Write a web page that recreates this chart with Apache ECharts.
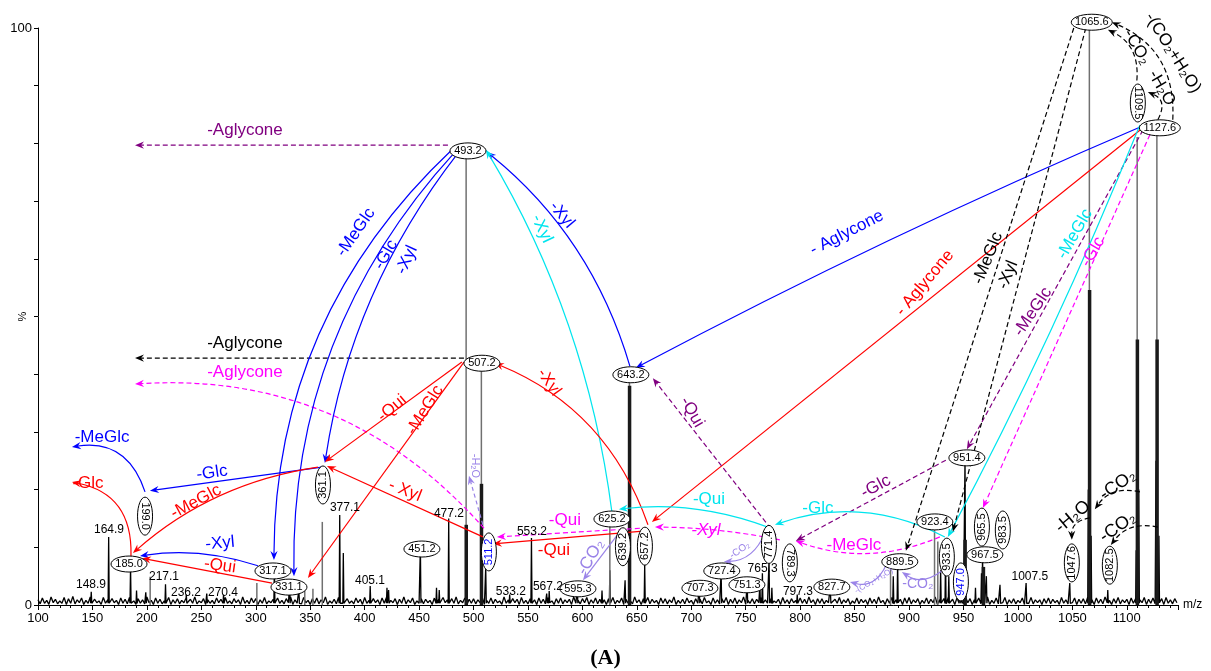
<!DOCTYPE html>
<html>
<head>
<meta charset="utf-8">
<script src="https://cdn.jsdelivr.net/npm/echarts@6/dist/echarts.min.js"></script>
<style>
  html, body { margin: 0; padding: 0; background: #fff; }
  #chart { width: 1211px; height: 671px; }
</style>
</head>
<body>
<div id="chart"></div>
<script>
const FONT = "'Liberation Sans', Arial, sans-serif";

// baseline noise, tenths of %, one value every 2 m/z from 100
const noiseStart = 100;
const noiseStep = 2;
const noise = [
  9,2,12,3,8,1,14,4,10,2,7,3,13,1,11,3,15,2,9,4,
  12,1,8,3,14,2,10,4,7,1,13,3,9,2,11,4,8,1,12,3,
  10,2,13,4,7,1,11,3,9,2,14,4,8,1,12,3,10,2,7,4,
  13,1,9,3,11,2,8,4,12,1,10,3,14,2,7,4,11,1,9,3,
  8,2,12,4,10,1,13,3,7,2,11,4,9,1,14,3,8,2,12,4,
  11,1,9,3,13,2,7,4,10,1,12,3,8,2,11,4,14,1,9,3,
  10,2,13,4,8,1,11,3,12,2,9,4,14,1,7,3,10,2,13,4,
  9,1,11,3,7,2,12,4,10,1,13,3,8,2,11,4,9,1,12,3,
  13,2,8,4,11,1,10,3,14,2,9,4,12,1,7,3,11,2,10,4,
  8,1,12,3,10,2,13,4,9,1,11,3,14,2,8,4,12,1,10,3,
  11,2,9,4,13,1,8,3,12,2,10,4,7,1,14,3,9,2,11,4,
  10,1,13,3,8,2,11,4,9,1,12,3,10,2,13,4,7,1,11,3,
  12,2,9,4,10,1,14,3,8,2,11,4,13,1,9,3,12,2,10,4,
  9,1,11,3,13,2,8,4,12,1,10,3,7,2,14,4,9,1,11,3,
  13,2,10,4,8,1,12,3,11,2,9,4,14,1,8,3,10,2,12,4,
  8,1,11,3,10,2,13,4,7,1,12,3,9,2,11,4,13,1,10,3,
  12,2,9,4,14,1,8,3,11,2,10,4,13,1,9,3,12,2,7,4,
  10,1,13,3,9,2,11,4,8,1,12,3,10,2,14,4,9,1,11,3,
  11,2,8,4,12,1,10,3,13,2,9,4,11,1,7,3,12,2,10,4,
  9,1,12,3,10,2,14,4,8,1,11,3,13,2,9,4,10,1,12,3,
  13,2,9,4,11,1,8,3,12,2,10,4,14,1,9,3,11,2,13,4,
  10,1,12,3,8,2,13,4,11,1,9,3,12,2,10,4,14,1,8,3,
  12,2,10,4,13,1,9,3,11,2,8,4,12,1,10,3,13,2,9,4,
  9,1,11,3,12,2,10,4,8,1,13,3,9,2,11,4,12,1,10,3,
  11,2,13,4,9,1,12,3,10,2,14,4,8,1,11,3,13,2,9,4,
  10,1,12,3,11,2,9,4,13,1,10,3,12,2,8,4,11,1,13,3,
  9,2,11,4
];

// thin black peaks of the trace
const peakMz = [148.9, 164.9, 185.0, 190.5, 199.0, 217.1, 236.2, 255.0, 270.4, 317.1, 331.1, 339.5,
  377.1, 380.4, 405.1, 420.5, 422.0, 451.2, 466.0, 468.5, 477.2, 511.2, 533.2, 553.2, 567.2, 569.5,
  595.3, 618.0, 625.2, 639.2, 657.2, 707.3, 727.4, 751.3, 763.0, 765.3, 771.4, 774.0, 797.3, 827.7,
  885.5, 889.5, 929.0, 933.5, 936.5, 947.0, 951.4, 961.0, 966.5, 967.5, 969.0, 971.0, 983.5, 1007.5,
  1047.6, 1064.6, 1067.2, 1082.5, 1108.6, 1111.0, 1126.8, 1129.5];
const peakInt = [2.3, 11.8, 6.6, 2.5, 2.2, 3.6, 1.8, 2.0, 1.8, 6.4, 3.5, 2.5,
  15.6, 9.0, 3.3, 3.0, 2.6, 10.2, 3.0, 2.6, 15.0, 6.6, 1.8, 11.6, 2.0, 2.4,
  2.9, 2.5, 6.0, 4.3, 7.0, 3.1, 5.7, 3.8, 3.5, 5.5, 7.8, 3.0, 1.8, 3.3,
  5.0, 7.6, 6.0, 8.3, 5.0, 4.0, 25.6, 3.0, 5.5, 8.7, 6.6, 5.0, 3.5, 3.8,
  3.8, 20.0, 12.0, 2.6, 9.5, 20.0, 25.0, 12.0];

// grey leader sticks
const grayMz = [203.0, 301.0, 345.0, 352.5, 361.1, 493.2, 507.2, 625.2, 643.2, 883.0, 923.4, 926.4, 1065.6, 1109.5, 1127.6];
const grayInt = [4.9, 3.8, 3.1, 2.8, 14.4, 78.7, 41.9, 14.9, 39.9, 6.6, 14.4, 11.0, 101.0, 81.1, 81.8];

// thick black clusters
const thickMz = [493.3, 507.3, 643.3, 951.5, 968.3, 1065.8, 1109.7, 1127.8];
const thickInt = [13.9, 21.0, 38.0, 11.3, 6.6, 54.6, 46.0, 46.0];

// boxed ion labels: m/z, %, text, rotation (deg)
const ellMz = [183.6, 315.8, 330.5, 452.6, 494.9, 507.7, 595.9, 627.1, 644.5, 707.9, 728.0, 751.1,
  829.1, 891.5, 923.7, 953.1, 969.6, 1067.8, 1130.3,
  198.3, 361.7, 514.1, 637.2, 657.4, 771.3, 790.5, 934.7, 947.6, 966.9, 986.1, 1049.5, 1084.4, 1110.1];
const ellPct = [7.1, 5.9, 3.1, 9.7, 78.7, 41.9, 2.8, 14.9, 39.9, 2.9, 5.9, 3.5,
  3.1, 7.5, 14.4, 25.5, 8.7, 101.0, 82.7,
  15.4, 20.8, 9.2, 10.1, 10.2, 10.5, 7.3, 8.3, 4.0, 13.5, 13.0, 7.3, 6.9, 87.0];
const ellText = ['185.0', '317.1', '331.1', '451.2', '493.2', '507.2', '595.3', '625.2', '643.2', '707.3', '727.4', '751.3',
  '827.7', '889.5', '923.4', '951.4', '967.5', '1065.6', '1127.6',
  '199.0', '361.1', '511.2', '639.2', '657.2', '771.4', '789.3', '933.5', '947.0', '965.5', '983.5', '1047.6', '1082.5', '1109.5'];
const ellRot = [0, 0, 0, 0, 0, 0, 0, 0, 0, 0, 0, 0, 0, 0, 0, 0, 0, 0, 0,
  -90, 90, 90, 90, 90, 90, -90, 90, 90, 90, 90, 90, 90, -90];
const ellBlue = ['511.2', '947.0'];

// plain peak labels
const tagMz = [148.7, 165.2, 215.7, 235.9, 269.9, 381.9, 404.9, 477.4, 534.3, 553.6, 568.3, 765.5, 797.9, 1010.9];
const tagPct = [3.5, 13.0, 4.9, 2.1, 2.1, 16.8, 4.3, 15.9, 2.3, 12.7, 3.1, 6.3, 2.3, 4.9];
const tagText = ['148.9', '164.9', '217.1', '236.2', '270.4', '377.1', '405.1', '477.2', '533.2', '553.2', '567.2', '765.3', '797.3', '1007.5'];

// losses: from m/z, %, to m/z, %, bend(px), style
const arrows = [
  [476.5, 79.7, 189.1, 79.7, 0, 'purple'],
  [491.2, 42.8, 189.1, 42.8, 0, 'black'],
  [509.6, 13.3, 189.1, 38.3, 46, 'magenta'],
  [480.2, 78.9, 316.7, 7.8, 48, 'blue'],
  [482.9, 78.5, 335.1, 5.0, 45, 'blue'],
  [485.7, 78.3, 363.5, 24.6, 22, 'blue'],
  [643.6, 41.4, 512.3, 78.5, 20, 'blue'],
  [627.1, 16.1, 511.4, 78.9, 20, 'cyan'],
  [1116.6, 83.2, 649.1, 41.1, 6, 'blue'],
  [360.8, 23.9, 202.8, 19.8, 0, 'blue'],
  [198.3, 19.6, 131.2, 27.4, 18, 'blue'],
  [185.4, 8.5, 131.2, 21.3, 20, 'red'],
  [302.0, 6.8, 193.7, 8.5, 7, 'blue'],
  [357.1, 23.9, 187.2, 9.0, 15, 'red'],
  [314.9, 3.8, 195.5, 8.1, 0, 'red'],
  [489.3, 42.1, 363.5, 24.8, 0, 'red'],
  [491.2, 42.1, 347.9, 4.7, 0, 'red'],
  [508.6, 11.8, 365.4, 24.1, 0, 'red'],
  [660.2, 13.9, 519.6, 41.9, 25, 'red'],
  [1114.8, 82.7, 663.8, 14.4, 0, 'red'],
  [655.6, 12.8, 517.8, 10.6, 0, 'red'],
  [652.8, 13.3, 521.5, 11.8, 0, 'magenta'],
  [781.3, 11.3, 666.6, 13.5, 3, 'magenta'],
  [928.3, 11.8, 796.0, 11.1, -14, 'magenta'],
  [1121.2, 81.5, 967.8, 16.8, 0, 'magenta'],
  [777.7, 12.1, 664.7, 39.3, 0, 'purple'],
  [933.8, 25.1, 796.0, 11.1, 0, 'purple'],
  [1114.8, 82.3, 953.1, 27.0, 0, 'purple'],
  [1112.0, 83.2, 935.6, 11.8, -6, 'cyan'],
  [932.9, 11.8, 776.8, 13.9, 18, 'cyan'],
  [770.3, 13.5, 633.5, 16.6, 9, 'cyan'],
  [1051.3, 100.0, 897.1, 9.4, 0, 'black'],
  [1062.3, 100.0, 940.2, 12.7, 0, 'black'],
  [1109.2, 90.9, 1082.6, 99.7, 10, 'black'],
  [1142.2, 84.1, 1086.2, 101.0, 20, 'black'],
  [1128.5, 84.1, 1119.3, 88.9, 8, 'black'],
  [1066.0, 15.1, 1049.5, 11.3, 6, 'black'],
  [1112.0, 19.6, 1070.6, 16.6, 8, 'black'],
  [1128.5, 13.5, 1085.3, 10.4, 8, 'black'],
  [508.6, 13.9, 495.8, 22.4, 0, 'lavD'],
  [634.4, 12.7, 600.5, 4.3, 0, 'lav'],
  [767.6, 12.5, 729.9, 7.5, -8, 'lav'],
  [930.1, 5.9, 893.4, 5.7, -7, 'lav'],
  [878.7, 6.8, 845.7, 4.0, -8, 'lav']
];

// loss names: m/z, %, text, rotation (deg), style, size, italic
const notes = [
  [290.1, 82.3, '-Aglycone', 0, 'purple', 17],
  [290.1, 45.4, '-Aglycone', 0, 'black', 17],
  [290.1, 40.4, '-Aglycone', 0, 'magenta', 17],
  [392.0, 64.6, '-MeGlc', 55, 'blue', 17],
  [419.6, 60.7, '-Glc', 60, 'blue', 17],
  [438.8, 59.8, '-Xyl', 65, 'blue', 17],
  [581.2, 67.6, '-Xyl', -50, 'blue', 17],
  [562.8, 65.2, '-Xyl', -65, 'cyan', 17],
  [842.9, 64.5, '- Aglycone', 27, 'blue', 17],
  [914.5, 55.8, '- Aglycone', 50, 'red', 17],
  [158.8, 29.1, '-MeGlc', 0, 'blue', 17],
  [145.9, 21.1, '-Glc', 0, 'red', 17],
  [259.8, 22.9, '-Glc', 8, 'blue', 17],
  [245.1, 17.9, '-MeGlc', 28, 'red', 17],
  [267.1, 10.7, '-Xyl', 5, 'blue', 17],
  [267.1, 6.8, '-Qui', -8, 'red', 17],
  [425.1, 34.1, '-Qui', 40, 'red', 17],
  [455.4, 33.8, '-MeGlc', 58, 'red', 17],
  [437.0, 19.8, '- Xyl', -22, 'red', 17],
  [569.2, 38.6, '-Xyl', -55, 'red', 17],
  [700.6, 33.4, '-Qui', -60, 'purple', 17],
  [583.9, 14.7, '-Qui', 0, 'magenta', 17],
  [573.8, 9.5, '-Qui', 0, 'red', 17],
  [607.8, 8.3, '-CO₂', 60, 'lav', 17],
  [501.3, 24.1, '-H₂O', -90, 'lav', 11],
  [716.2, 18.4, '-Qui', 0, 'cyan', 17],
  [713.4, 13.0, '-Xyl', 0, 'magenta', 17, true],
  [816.3, 16.8, '-Glc', 0, 'cyan', 17],
  [869.5, 20.5, '-Glc', 28, 'purple', 17],
  [849.3, 10.4, '-MeGlc', 0, 'magenta', 17],
  [744.6, 9.5, '-CO₂', 35, 'lav', 10],
  [908.1, 3.6, '-CO₂', 0, 'lav', 14],
  [867.7, 4.2, '-(CO₂+H₂O)', 30, 'lav', 8],
  [972.4, 60.1, '-MeGlc', 68, 'black', 17],
  [990.7, 57.2, '-Xyl', 68, 'black', 17],
  [1052.2, 64.3, '-MeGlc', 60, 'cyan', 17],
  [1068.8, 61.2, '-Glc', 60, 'magenta', 17],
  [1013.7, 50.8, '-MeGlc', 56, 'purple', 17],
  [1109.2, 96.7, '-CO₂', -60, 'black', 17],
  [1132.1, 89.6, '-H₂O', -60, 'black', 17],
  [1142.2, 95.7, '-(CO₂+H₂O)', -58, 'black', 17],
  [1050.4, 15.3, '-H₂O', 40, 'black', 18],
  [1091.7, 20.8, '-CO₂', 35, 'black', 18],
  [1091.7, 13.5, '-CO₂', 35, 'black', 18]
];

const styles = {
  blue: { color: '#0000ff' },
  red: { color: '#ff0000' },
  cyan: { color: '#00e5ee' },
  magenta: { color: '#ff00ff', dash: [5, 3] },
  purple: { color: '#800080', dash: [5, 3] },
  black: { color: '#000000', dash: [5, 3] },
  lav: { color: '#9a83e8' },
  lavD: { color: '#9a83e8', dash: [4, 3] }
};

// build trace: noise + spikes
const trace = noise.map((v, i) => [noiseStart + i * noiseStep, v / 10]);
peakMz.forEach((m, i) => {
  trace.push([m - 0.5, 0.3], [m, peakInt[i]], [m + 0.5, 0.3]);
});
trace.sort((a, b) => a[0] - b[0]);

function stickSeries(name, mz, val, color, width, z) {
  return {
    name: name,
    type: 'custom',
    clip: false,
    z: z,
    encode: { x: 0, y: 1 },
    data: mz.map((m, i) => [m, val[i]]),
    renderItem: function (params, api) {
      const b = api.coord([api.value(0), 0]);
      const t = api.coord([api.value(0), api.value(1)]);
      return {
        type: 'line',
        shape: { x1: b[0], y1: b[1], x2: t[0], y2: t[1] },
        style: { stroke: color, lineWidth: width }
      };
    }
  };
}

function renderArrow(params, api) {
  const a = arrows[params.dataIndex];
  const p1 = api.coord([a[0], a[1]]);
  const p2 = api.coord([a[2], a[3]]);
  const dx = p2[0] - p1[0], dy = p2[1] - p1[1];
  const len = Math.hypot(dx, dy) || 1;
  const nx = -dy / len, ny = dx / len;
  const cx = (p1[0] + p2[0]) / 2 + nx * a[4] * 2;
  const cy = (p1[1] + p2[1]) / 2 + ny * a[4] * 2;
  let tx = p2[0] - cx, ty = p2[1] - cy;
  const tl = Math.hypot(tx, ty) || 1;
  tx /= tl; ty /= tl;
  const s = styles[a[5]];
  const L = 9, W = 3.6, N = 6;
  const head = [
    [p2[0], p2[1]],
    [p2[0] - tx * L - ty * W, p2[1] - ty * L + tx * W],
    [p2[0] - tx * N, p2[1] - ty * N],
    [p2[0] - tx * L + ty * W, p2[1] - ty * L - tx * W]
  ];
  return {
    type: 'group',
    children: [
      {
        type: 'bezierCurve',
        shape: { x1: p1[0], y1: p1[1], x2: p2[0] - tx * N, y2: p2[1] - ty * N, cpx1: cx, cpy1: cy },
        style: { stroke: s.color, lineWidth: 1.2, lineDash: s.dash || null, fill: null }
      },
      { type: 'polygon', shape: { points: head }, style: { fill: s.color } }
    ]
  };
}

function renderNote(params, api) {
  const n = notes[params.dataIndex];
  const p = api.coord([n[0], n[1]]);
  return {
    type: 'text',
    x: p[0],
    y: p[1],
    rotation: n[3] * Math.PI / 180,
    style: {
      text: n[2],
      fill: styles[n[4]].color,
      fontSize: n[5],
      fontFamily: FONT,
      fontStyle: n[6] ? 'italic' : 'normal',
      align: 'center',
      verticalAlign: 'middle'
    }
  };
}

function renderEllipse(params, api) {
  const i = params.dataIndex;
  const p = api.coord([ellMz[i], ellPct[i]]);
  const txt = ellText[i];
  const rot = ellRot[i];
  const rx = rot !== 0 ? 19 : (txt.length > 5 ? 20.5 : 18);
  const ry = rot !== 0 ? 7.5 : 8;
  return {
    type: 'group',
    x: p[0],
    y: p[1],
    rotation: rot * Math.PI / 180,
    children: [
      { type: 'ellipse', shape: { cx: 0, cy: 0, rx: rx, ry: ry }, style: { fill: '#fff', stroke: '#000', lineWidth: 1 } },
      {
        type: 'text',
        x: 0, y: 0,
        style: {
          text: txt,
          fill: ellBlue.indexOf(txt) >= 0 ? '#0000ff' : '#000',
          fontSize: 11,
          fontFamily: FONT,
          align: 'center',
          verticalAlign: 'middle'
        }
      }
    ]
  };
}

function renderTag(params, api) {
  const i = params.dataIndex;
  const p = api.coord([tagMz[i], tagPct[i]]);
  return {
    type: 'text',
    x: p[0], y: p[1],
    style: { text: tagText[i], fill: '#000', fontSize: 12, fontFamily: FONT, align: 'center', verticalAlign: 'middle' }
  };
}

const chart = echarts.init(document.getElementById('chart'));
chart.setOption({
  animation: false,
  backgroundColor: '#fff',
  title: {
    text: '(A)',
    left: 'center',
    top: 642,
    textStyle: { fontFamily: "'Liberation Serif', 'Times New Roman', serif", fontWeight: 'bold', fontSize: 22, color: '#000' }
  },
  grid: { left: 38, right: 33, top: 28, bottom: 66, containLabel: false, outerBoundsMode: 'none' },
  xAxis: {
    type: 'value',
    min: 100,
    max: 1147,
    interval: 50,
    name: 'm/z',
    nameLocation: 'end',
    nameGap: 5,
    nameTextStyle: { fontFamily: FONT, fontSize: 12, color: '#000', verticalAlign: 'middle' },
    axisLine: { lineStyle: { color: '#000', width: 1 } },
    axisTick: { length: 5, lineStyle: { color: '#000' } },
    minorTick: { show: true, splitNumber: 5, length: 3, lineStyle: { color: '#000' } },
    axisLabel: {
      fontFamily: FONT, fontSize: 13, color: '#000', margin: 7,
      formatter: v => (v <= 1100 ? String(v) : '')
    },
    splitLine: { show: false }
  },
  yAxis: {
    type: 'value',
    min: 0,
    max: 100,
    interval: 10,
    name: '%',
    nameLocation: 'middle',
    nameRotate: 90,
    nameGap: 10,
    nameMoveOverlap: false,
    nameTextStyle: { fontFamily: FONT, fontSize: 11, color: '#000' },
    axisLine: { show: true, lineStyle: { color: '#000', width: 1 } },
    axisTick: { show: true, length: 4, lineStyle: { color: '#000' } },
    axisLabel: {
      fontFamily: FONT, fontSize: 13, color: '#000', margin: 6,
      formatter: v => (v === 0 || v === 100 ? String(v) : '')
    },
    splitLine: { show: false }
  },
  series: [
    {
      name: 'trace',
      type: 'line',
      data: trace,
      showSymbol: false,
      symbol: 'none',
      sampling: null,
      z: 2,
      lineStyle: { color: '#000', width: 1.3 }
    },
    stickSeries('grey', grayMz, grayInt, '#707070', 1.5, 3),
    stickSeries('cluster', thickMz, thickInt, '#1a1a1a', 3.5, 3),
    {
      name: 'arrows',
      type: 'custom',
      clip: false,
      z: 4,
      encode: { x: 0, y: 1 },
      data: arrows.map(a => [a[2], a[3]]),
      renderItem: renderArrow
    },
    {
      name: 'ions',
      type: 'custom',
      clip: false,
      z: 5,
      encode: { x: 0, y: 1 },
      data: ellMz.map((m, i) => [m, ellPct[i]]),
      renderItem: renderEllipse
    },
    {
      name: 'tags',
      type: 'custom',
      clip: false,
      z: 5,
      encode: { x: 0, y: 1 },
      data: tagMz.map((m, i) => [m, tagPct[i]]),
      renderItem: renderTag
    },
    {
      name: 'notes',
      type: 'custom',
      clip: false,
      z: 6,
      encode: { x: 0, y: 1 },
      data: notes.map(n => [n[0], n[1]]),
      renderItem: renderNote
    }
  ]
});
</script>
</body>
</html>
